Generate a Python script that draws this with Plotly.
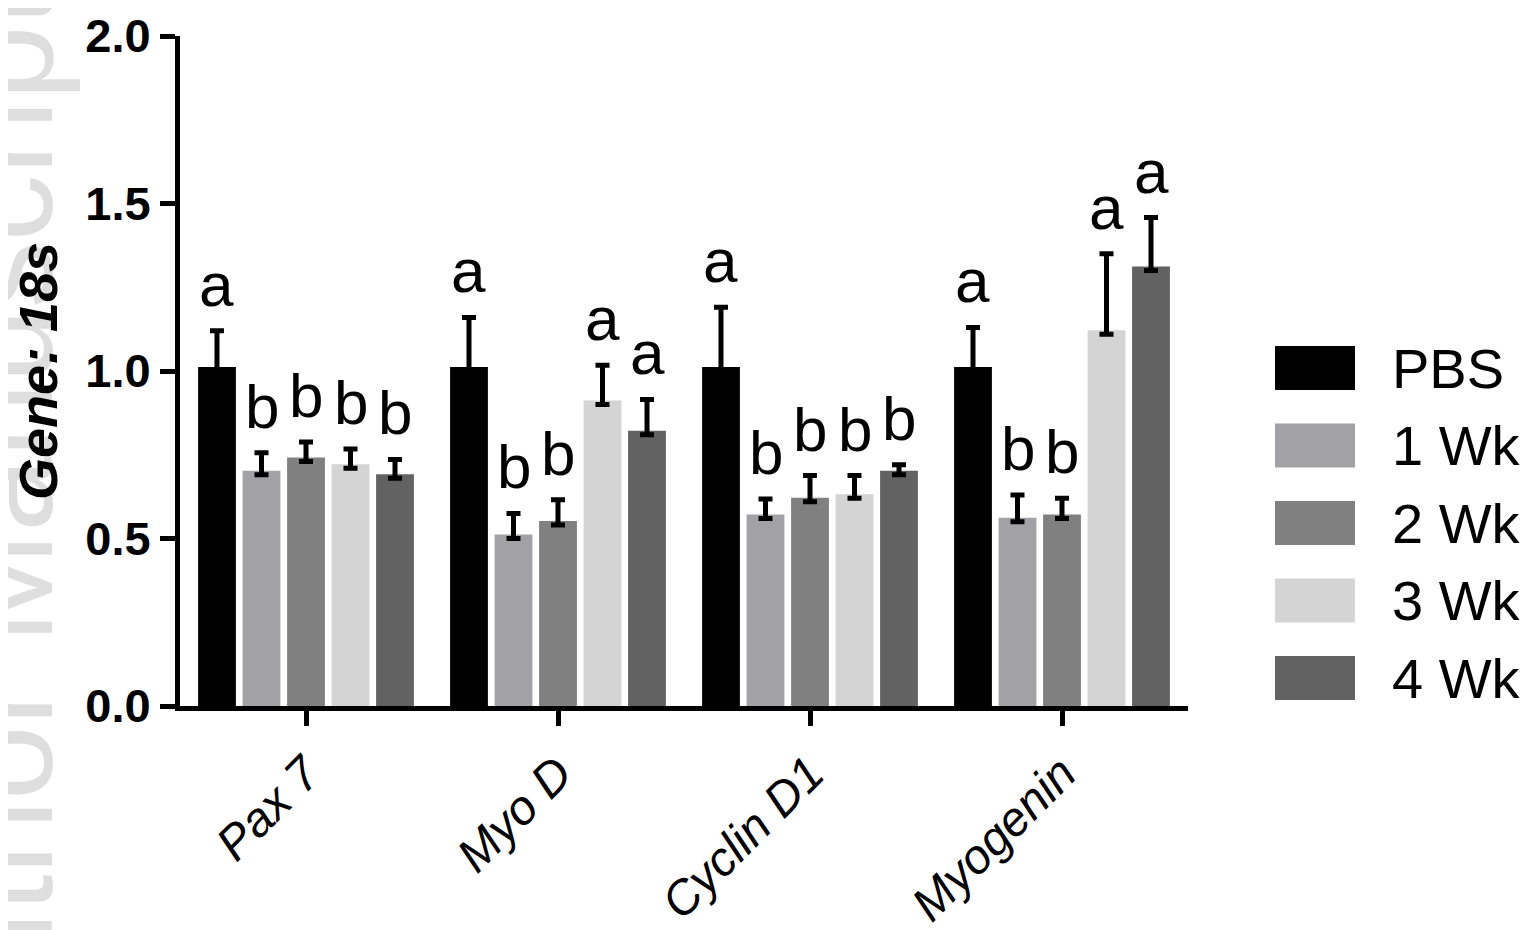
import plotly.graph_objects as go

# ---------------- data ----------------
genes = ["Pax 7", "Myo D", "Cyclin D1", "Myogenin"]
groups = ["PBS", "1 Wk", "2 Wk", "3 Wk", "4 Wk"]

pbs = [1.00, 1.00, 1.00, 1.00]
wk1 = [0.69, 0.50, 0.56, 0.55]
wk2 = [0.73, 0.54, 0.61, 0.56]
wk3 = [0.71, 0.90, 0.62, 1.11]
wk4 = [0.68, 0.81, 0.69, 1.30]

pbs_err = [0.12, 0.16, 0.19, 0.13]
wk1_err = [0.066, 0.075, 0.058, 0.08]
wk2_err = [0.058, 0.076, 0.078, 0.06]
wk3_err = [0.057, 0.117, 0.068, 0.24]
wk4_err = [0.056, 0.105, 0.03, 0.158]

pbs_sig = ["a", "a", "a", "a"]
wk1_sig = ["b", "b", "b", "b"]
wk2_sig = ["b", "b", "b", "b"]
wk3_sig = ["b", "a", "b", "a"]
wk4_sig = ["b", "a", "b", "a"]

values = [pbs, wk1, wk2, wk3, wk4]
errors = [pbs_err, wk1_err, wk2_err, wk3_err, wk4_err]
letters = [pbs_sig, wk1_sig, wk2_sig, wk3_sig, wk4_sig]
colors = ["#000000", "#a2a2a6", "#808080", "#d4d4d4", "#626262"]

FONT = "Arial, Liberation Sans, Helvetica, sans-serif"
W, H = 1529, 930
OFF = 8  # page body margin compensation
# plot area in reference pixels
PX0, PX1, PY0, PY1 = 180, 1188, 36, 706
L, T = PX0 - OFF, PY0 - OFF
R, B = W - PX1 + OFF, H - PY1 + OFF
BARGAP = 0.117
BARGROUPGAP = 0.33

fig = go.Figure()
for name, vals, errs, col in zip(groups, values, errors, colors):
    fig.add_trace(go.Bar(
        x=genes, y=vals, name=name,
        marker=dict(color=col, line=dict(width=8, color=col)),
        error_y=dict(type="data", array=errs, arrayminus=[0] * len(errs),
                     symmetric=False, color="#000000", thickness=5, width=7),
        showlegend=False,
    ))

# significance letters above each bar
pitch = (1 - BARGAP) / len(groups)
for k, (vals, errs, sig) in enumerate(zip(values, errors, letters)):
    for i in range(len(genes)):
        fig.add_annotation(
            x=i + (k - (len(groups) - 1) / 2) * pitch, y=vals[i] + errs[i],
            xref="x", yref="y", text=sig[i], showarrow=False,
            yanchor="bottom", yshift=10,
            font=dict(family=FONT, size=62, color="#000000"),
        )

# manual legend (large swatches like the original)
pw, ph = PX1 - PX0, PY1 - PY0
def px(xp):
    return (xp - PX0) / pw
def py(yp):
    return (PY1 - yp) / ph
for j, (name, col) in enumerate(zip(groups, colors)):
    yc = 368 + j * 77.5
    fig.add_shape(type="rect", xref="paper", yref="paper",
                  x0=px(1275), x1=px(1355), y0=py(yc + 22), y1=py(yc - 22),
                  fillcolor=col, line=dict(width=0), layer="above")
    fig.add_annotation(xref="paper", yref="paper", x=px(1390), y=py(yc),
                       text=name, showarrow=False, xanchor="left", yanchor="middle",
                       font=dict(family=FONT, size=56, color="#000000"))

# faint watermark at the left edge (drawn beneath the axis title)
WM_X, WM_Y = -8, 532
fig.add_shape(type="rect", xref="paper", yref="paper",
              x0=px(WM_X - 130), x1=px(WM_X + 130), y0=py(WM_Y + 600), y1=py(WM_Y - 600),
              line=dict(width=0), fillcolor="rgba(0,0,0,0)", layer="below",
              label=dict(text="Author Manuscript", textangle=-90,
                         textposition="middle center",
                         font=dict(family=FONT, size=134, color="#dedede")))

fig.update_layout(
    width=W, height=H,
    margin=dict(l=L, r=R, t=T, b=B, pad=0, autoexpand=False),
    plot_bgcolor="white", paper_bgcolor="white",
    barmode="group", bargap=BARGAP, bargroupgap=BARGROUPGAP,
    showlegend=False,
    font=dict(family=FONT, color="#000000"),
)
fig.update_xaxes(
    type="category", range=[-0.5, 3.5], automargin=False,
    showline=True, linewidth=5, linecolor="#000000", mirror=False,
    ticks="outside", ticklen=15, tickwidth=5, tickcolor="#000000",
    tickangle=-45, showgrid=False, zeroline=False,
    tickfont=dict(family=FONT, size=48, style="italic", color="#000000"),
)
fig.update_yaxes(
    range=[0, 2.0], dtick=0.5, tick0=0, tickformat=".1f", automargin=False,
    showline=True, linewidth=5, linecolor="#000000",
    ticks="outside", ticklen=15, tickwidth=5, tickcolor="#000000",
    showgrid=False, zeroline=False,
    tickfont=dict(family=FONT, size=47, weight="bold", color="#000000"),
    title=dict(text="Gene: 18s", standoff=22,
               font=dict(family=FONT, size=54, weight="bold", style="italic", color="#000000")),
)

fig.write_html("out.html")
